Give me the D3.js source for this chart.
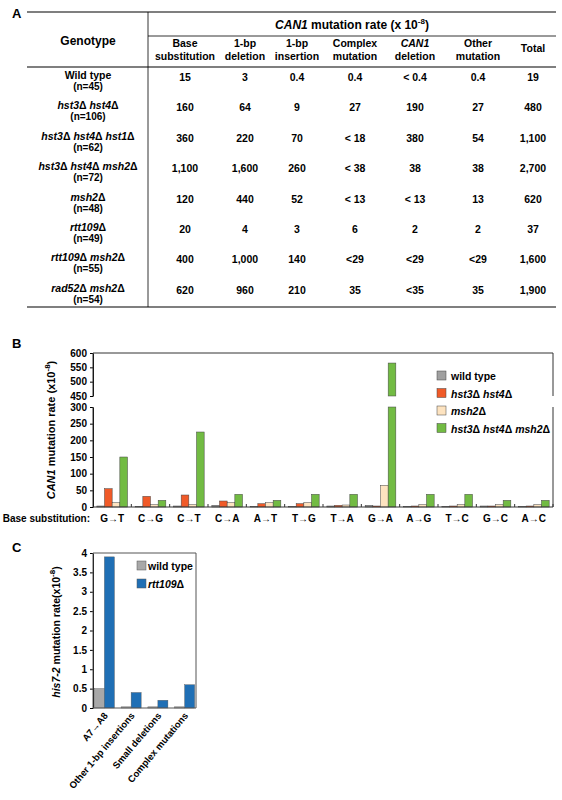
<!DOCTYPE html>
<html><head><meta charset="utf-8">
<script src="https://cdn.jsdelivr.net/npm/d3@7"></script>
<style>body{margin:0;background:#fff}text{font-family:Arial,"Liberation Sans",sans-serif}</style>
</head><body><div id="fig"></div>
<script>
const D = "\u0394";
const genotypes = [["Wild type","(n=45)"],["hst3"+D+" hst4"+D,"(n=106)"],["hst3"+D+" hst4"+D+" hst1"+D,"(n=62)"],["hst3"+D+" hst4"+D+" msh2"+D,"(n=72)"],["msh2"+D,"(n=48)"],["rtt109"+D,"(n=49)"],["rtt109"+D+" msh2"+D,"(n=55)"],["rad52"+D+" msh2"+D,"(n=54)"]];
const colHeads = [["Base","substitution"],["1-bp","deletion"],["1-bp","insertion"],["Complex","mutation"],["CAN1","deletion"],["Other","mutation"],["Total"]];
const tableRows = [
  ["15","3","0.4","0.4","< 0.4","0.4","19"],
  ["160","64","9","27","190","27","480"],
  ["360","220","70","< 18","380","54","1,100"],
  ["1,100","1,600","260","< 38","38","38","2,700"],
  ["120","440","52","< 13","< 13","13","620"],
  ["20","4","3","6","2","2","37"],
  ["400","1,000","140","<29","<29","<29","1,600"],
  ["620","960","210","35","<35","35","1,900"]];

const subs = ["G\u2192T","C\u2192G","C\u2192T","C\u2192A","A\u2192T","T\u2192G","T\u2192A","G\u2192A","A\u2192G","T\u2192C","G\u2192C","A\u2192C"];
const seriesB = ["wild type","hst3"+D+" hst4"+D,"msh2"+D,"hst3"+D+" hst4"+D+" msh2"+D];
const colorsB = ["#a0a0a0","#f05a28","#fde3c0","#72bb43"];
const wtB = [3,1,3,5,1,1,3,5,1,1,3,1];
const h34B = [55,32,36,18,10,10,5,3,3,3,3,3];
const msh2B = [13,7,7,13,13,13,6,65,7,7,7,7];
const tripleB = [150,20,225,38,20,38,38,565,38,38,20,20];

const catsC = ["A7\u2192A8","Other 1-bp insertions","Small deletions","Complex mutations"];
const seriesC = ["wild type","rtt109"+D];
const colorsC = ["#a8a8a8","#1f6fb5"];
const wtC = [0.5,0.03,0.03,0.03];
const rttC = [3.9,0.4,0.2,0.6];

const svg = d3.select("#fig").append("svg").attr("width",562).attr("height",800);

// ---- Panel A: table
svg.append("text").attr("x",12).attr("y",18).attr("font-weight","bold").attr("font-size",13).text("A");
const colX = [185,245,297,355,415,478,533];
const hl = (y,x1,x2,w) => svg.append("line").attr("x1",x1).attr("x2",x2).attr("y1",y).attr("y2",y).attr("stroke","#000").attr("stroke-width",w);
hl(12,27,556,1.2); hl(36,148,556,0.8); hl(67,27,556,1.2); hl(307,27,556,1.2);
svg.append("line").attr("x1",148).attr("x2",148).attr("y1",12).attr("y2",307).attr("stroke","#000").attr("stroke-width",0.8);
const t1 = svg.append("text").attr("x",352).attr("y",29).attr("text-anchor","middle").attr("font-size",12).attr("font-weight","bold");
t1.append("tspan").attr("font-style","italic").text("CAN1");
t1.append("tspan").text(" mutation rate (x 10");
t1.append("tspan").attr("font-size",8).attr("dy",-5).text("-8");
t1.append("tspan").attr("dy",5).text(")");
svg.append("text").attr("x",88).attr("y",45).attr("text-anchor","middle").attr("font-size",12).attr("font-weight","bold").text("Genotype");
colHeads.forEach((h,i) => {
  h.forEach((s,j) => svg.append("text").attr("x",colX[i]).attr("y",h.length===1?52:47+j*13)
    .attr("text-anchor","middle").attr("font-size",10.5).attr("font-weight","bold")
    .attr("font-style",s==="CAN1"?"italic":null).text(s));
});
genotypes.forEach((g,r) => {
  const y = 79 + r*30.4;
  const name = svg.append("text").attr("x",88).attr("y",y).attr("text-anchor","middle").attr("font-size",10.5).attr("font-weight","bold");
  if (r===0) name.text(g[0]);
  else g[0].split(" ").forEach((w,k) => {
    if (k>0) name.append("tspan").text(" ");
    name.append("tspan").attr("font-style","italic").text(w.replace(D,""));
    name.append("tspan").text(D);
  });
  svg.append("text").attr("x",88).attr("y",y+11).attr("text-anchor","middle").attr("font-size",10).attr("font-weight","bold").text(g[1]);
  tableRows[r].forEach((v,i) => svg.append("text").attr("x",colX[i]).attr("y",y+2).attr("text-anchor","middle").attr("font-size",10.5).attr("font-weight","bold").text(v));
});

function italicLabel(sel, s) {
  s.split(" ").forEach((w,k) => {
    if (k>0) sel.append("tspan").text(" ");
    if (w.endsWith(D)) { sel.append("tspan").attr("font-style","italic").text(w.slice(0,-1)); sel.append("tspan").text(D); }
    else sel.append("tspan").text(w);
  });
}

// ---- Panel B
svg.append("text").attr("x",12).attr("y",348).attr("font-weight","bold").attr("font-size",13).text("B");
const bL=93,bR=553,bBot=507,bMidLo=407,bMidHi=396,bTop=353;
const xB = d3.scaleBand().domain(subs).range([bL,bR]).paddingInner(0.2).paddingOuter(0.1);
const xBs = d3.scaleBand().domain(d3.range(4)).range([0,xB.bandwidth()]);
const yLo = d3.scaleLinear().domain([0,300]).range([bBot,bMidLo]);
const yHi = d3.scaleLinear().domain([450,600]).range([bMidHi,bTop]);
const gB = svg.append("g");
const dataB = [wtB,h34B,msh2B,tripleB];
subs.forEach((c,i) => dataB.forEach((arr,s) => {
  const v = arr[i], x = xB(c)+xBs(s), w = xBs.bandwidth();
  const rect = (y0,y1) => gB.append("rect").attr("x",x).attr("width",w).attr("y",y0).attr("height",y1-y0).attr("fill",colorsB[s]).attr("stroke","#444").attr("stroke-width",0.5);
  if (v <= 300) rect(yLo(v),bBot);
  else { rect(yLo(300),bBot); rect(yHi(v),yHi(450)); }
}));
[[yLo,d3.range(0,301,50)],[yHi,d3.range(450,601,50)]].forEach(([sc,tv]) => {
  const a = svg.append("g").attr("transform",`translate(${bL},0)`).call(d3.axisLeft(sc).tickValues(tv).tickSize(3).tickSizeOuter(0));
  a.selectAll("text").attr("font-size",10).attr("font-weight","bold");
});
svg.append("path").attr("d",`M${bL},${bMidHi}V${bTop}H${bR}V${bMidHi}M${bL},${bMidLo}V${bBot}H${bR}V${bMidLo}`).attr("fill","none").attr("stroke","#333");
subs.forEach(c => {
  const xc = xB(c)+xB.bandwidth()+xB.step()*xB.paddingInner()/2;
  svg.append("line").attr("x1",xc).attr("x2",xc).attr("y1",bBot).attr("y2",bBot-3).attr("stroke","#333");
  svg.append("text").attr("x",xB(c)+xB.bandwidth()/2).attr("y",522).attr("text-anchor","middle").attr("font-size",10).attr("font-weight","bold").text(c);
});
svg.append("text").attr("x",90).attr("y",522).attr("text-anchor","end").attr("font-size",10).attr("font-weight","bold").text("Base substitution:");
const yl = svg.append("text").attr("transform","translate(55,430) rotate(-90)").attr("text-anchor","middle").attr("font-size",11).attr("font-weight","bold");
yl.append("tspan").attr("font-style","italic").text("CAN1");
yl.append("tspan").text("  mutation rate (x10");
yl.append("tspan").attr("font-size",8).attr("dy",-5).text("-8");
yl.append("tspan").attr("dy",5).text(")");
seriesB.forEach((s,i) => {
  const y = 380 + i*17.5;
  svg.append("rect").attr("x",437).attr("y",y-9).attr("width",9).attr("height",9).attr("fill",colorsB[i]).attr("stroke","#444").attr("stroke-width",0.5);
  const t = svg.append("text").attr("x",451).attr("y",y).attr("font-size",10.5).attr("font-weight","bold");
  italicLabel(t,s);
});

// ---- Panel C
svg.append("text").attr("x",12).attr("y",552).attr("font-weight","bold").attr("font-size",13).text("C");
const cL=93,cR=196,cBot=708,cTop=553;
const xC = d3.scaleBand().domain(catsC).range([cL,cR]).paddingInner(0.25).paddingOuter(0.05);
const xCs = d3.scaleBand().domain(d3.range(2)).range([0,xC.bandwidth()]);
const yC = d3.scaleLinear().domain([0,4]).range([cBot,cTop]);
[wtC,rttC].forEach((arr,s) => catsC.forEach((c,i) => {
  svg.append("rect").attr("x",xC(c)+xCs(s)).attr("width",xCs.bandwidth()).attr("y",yC(arr[i])).attr("height",cBot-yC(arr[i])).attr("fill",colorsC[s]).attr("stroke","#555").attr("stroke-width",0.4);
}));
const axC = svg.append("g").attr("transform",`translate(${cL},0)`).call(d3.axisLeft(yC).tickValues(d3.range(0,4.01,0.5)).tickFormat(d3.format("~g")).tickSize(3).tickSizeOuter(0));
axC.selectAll("text").attr("font-size",10).attr("font-weight","bold");
svg.append("path").attr("d",`M${cL},${cTop}H${cR}V${cBot}H${cL}Z`).attr("fill","none").attr("stroke","#555");
catsC.forEach(c => svg.append("text").attr("transform",`translate(${xC(c)+xC.bandwidth()*0.7},${cBot+8}) rotate(-50)`).attr("text-anchor","end").attr("font-size",9.5).attr("font-weight","bold").text(c));
const ylc = svg.append("text").attr("transform","translate(60,632) rotate(-90)").attr("text-anchor","middle").attr("font-size",10.5).attr("font-weight","bold");
ylc.append("tspan").attr("font-style","italic").text("his7-2");
ylc.append("tspan").text("  mutation rate(x10");
ylc.append("tspan").attr("font-size",8).attr("dy",-5).text("-8");
ylc.append("tspan").attr("dy",5).text(")");
seriesC.forEach((s,i) => {
  const y = 570 + i*18;
  svg.append("rect").attr("x",137).attr("y",y-9).attr("width",9).attr("height",9).attr("fill",colorsC[i]).attr("stroke","#555").attr("stroke-width",0.5);
  const t = svg.append("text").attr("x",148).attr("y",y).attr("font-size",10.5).attr("font-weight","bold");
  italicLabel(t,s);
});
</script></body></html>
